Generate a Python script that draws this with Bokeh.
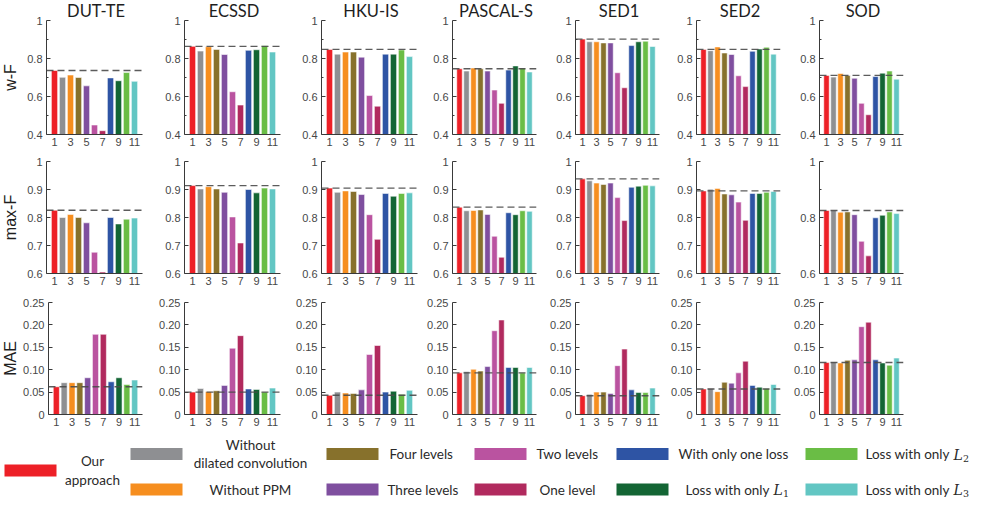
from math import pi
from bokeh.plotting import figure
from bokeh.layouts import column, row
from bokeh.models import Range1d, FixedTicker, Span, ColumnDataSource
from bokeh.embed import file_html
from bokeh.resources import INLINE
from bokeh.core.properties import value

# ---------------- data ----------------
datasets = ["DUT-TE", "ECSSD", "HKU-IS", "PASCAL-S", "SED1", "SED2", "SOD"]
metrics = ["w-F", "max-F", "MAE"]
methods = ["Our approach", "Without dilated convolution", "Without PPM", "Four levels",
           "Three levels", "Two levels", "One level", "With only one loss",
           "Loss with only L1", "Loss with only L2", "Loss with only L3"]
method_colors = ["#ED2027", "#8E8F92", "#F68E1F", "#87712C", "#7F4F9F", "#BA53A0",
                 "#B12A5E", "#2E54A4", "#136534", "#6ABD45", "#62C6C3"]
bar_ids = [1, 2, 3, 4, 5, 6, 7, 8, 9, 10, 11]
x_tick_values = [1, 3, 5, 7, 9, 11]

wf_dut_te = [0.737, 0.701, 0.713, 0.700, 0.656, 0.450, 0.420, 0.698, 0.683, 0.726, 0.680]
wf_ecssd = [0.864, 0.839, 0.862, 0.848, 0.821, 0.625, 0.555, 0.843, 0.846, 0.867, 0.834]
wf_hku_is = [0.848, 0.823, 0.834, 0.834, 0.807, 0.605, 0.549, 0.823, 0.823, 0.845, 0.810]
wf_pascal_s = [0.746, 0.734, 0.750, 0.746, 0.734, 0.634, 0.564, 0.739, 0.761, 0.750, 0.729]
wf_sed1 = [0.902, 0.888, 0.888, 0.882, 0.882, 0.725, 0.646, 0.868, 0.888, 0.891, 0.863]
wf_sed2 = [0.848, 0.841, 0.861, 0.829, 0.821, 0.709, 0.652, 0.838, 0.850, 0.859, 0.823]
wf_sod = [0.711, 0.702, 0.721, 0.711, 0.696, 0.564, 0.504, 0.705, 0.723, 0.734, 0.691]

maxf_dut_te = [0.826, 0.800, 0.811, 0.800, 0.781, 0.676, 0.605, 0.800, 0.777, 0.794, 0.798]
maxf_ecssd = [0.914, 0.902, 0.910, 0.902, 0.890, 0.802, 0.709, 0.900, 0.888, 0.905, 0.902]
maxf_hku_is = [0.905, 0.890, 0.895, 0.893, 0.882, 0.810, 0.722, 0.886, 0.876, 0.886, 0.888]
maxf_pascal_s = [0.837, 0.824, 0.825, 0.827, 0.811, 0.733, 0.658, 0.817, 0.810, 0.824, 0.822]
maxf_sed1 = [0.938, 0.931, 0.923, 0.918, 0.923, 0.871, 0.789, 0.908, 0.912, 0.915, 0.913]
maxf_sed2 = [0.895, 0.901, 0.904, 0.884, 0.881, 0.855, 0.790, 0.886, 0.886, 0.890, 0.893]
maxf_sod = [0.825, 0.825, 0.819, 0.820, 0.810, 0.715, 0.663, 0.799, 0.808, 0.820, 0.814]

mae_dut_te = [0.062, 0.071, 0.071, 0.071, 0.082, 0.179, 0.179, 0.073, 0.082, 0.067, 0.077]
mae_ecssd = [0.050, 0.058, 0.051, 0.053, 0.065, 0.148, 0.176, 0.057, 0.056, 0.050, 0.059]
mae_hku_is = [0.043, 0.050, 0.048, 0.047, 0.055, 0.134, 0.154, 0.050, 0.052, 0.045, 0.054]
mae_pascal_s = [0.093, 0.096, 0.101, 0.097, 0.107, 0.187, 0.211, 0.105, 0.105, 0.093, 0.105]
mae_sed1 = [0.042, 0.045, 0.050, 0.050, 0.047, 0.109, 0.146, 0.055, 0.049, 0.049, 0.059]
mae_sed2 = [0.057, 0.058, 0.051, 0.072, 0.070, 0.093, 0.119, 0.065, 0.061, 0.058, 0.067]
mae_sod = [0.116, 0.117, 0.115, 0.121, 0.122, 0.196, 0.206, 0.122, 0.115, 0.110, 0.126]

wf_ticks = [0.4, 0.6, 0.8, 1.0]
wf_tick_labels = ["0.4", "0.6", "0.8", "1"]
maxf_ticks = [0.6, 0.7, 0.8, 0.9, 1.0]
maxf_tick_labels = ["0.6", "0.7", "0.8", "0.9", "1"]
mae_ticks = [0.0, 0.05, 0.1, 0.15, 0.2, 0.25]
mae_tick_labels = ["0", "0.05", "0.10", "0.15", "0.20", "0.25"]

metric_values = [
    [wf_dut_te, wf_ecssd, wf_hku_is, wf_pascal_s, wf_sed1, wf_sed2, wf_sod],
    [maxf_dut_te, maxf_ecssd, maxf_hku_is, maxf_pascal_s, maxf_sed1, maxf_sed2, maxf_sod],
    [mae_dut_te, mae_ecssd, mae_hku_is, mae_pascal_s, mae_sed1, mae_sed2, mae_sod],
]
metric_ranges = [(0.4, 1.0), (0.6, 1.0), (0.0, 0.25)]
metric_ticks = [wf_ticks, maxf_ticks, mae_ticks]
metric_tick_labels = [wf_tick_labels, maxf_tick_labels, mae_tick_labels]

# ---------------- layout / style ----------------
LABEL_W = 20
col_left = [26, 30, 30, 30, 30, 30, 30]
col_frame = [96, 96, 96, 84, 84, 84, 84]
col_right = [12, 11, 5, 9, 7, 9, 10]
row_top = [0, 7, 9]
row_title_px = [20, 0, 0]      # extra frame space above the axes for the column titles
row_frame = [114, 112, 112]
row_bottom = [20, 20, 20]

AX_COLOR = "#3a3a3a"
TICK_COLOR = "#474747"
TICK_FONT = "Liberation Sans"
TITLE_FONT = "Lato"
LEG_FONT = "Lato"
TEXT_COLOR = "#1e1e1e"


def blank_fig(w, h):
    f = figure(width=w, height=h, x_range=Range1d(0, w), y_range=Range1d(h, 0),
               output_backend="svg", toolbar_location=None, x_axis_type=None,
               y_axis_type=None, min_border=0)
    f.outline_line_color = None
    f.grid.visible = False
    return f


rows = []
for r, metric in enumerate(metrics):
    y0, y1 = metric_ranges[r]
    ppu_y = (y1 - y0) / row_frame[r]
    y_top = y1 + row_title_px[r] * ppu_y
    figs = []
    for c, ds in enumerate(datasets):
        vals = metric_values[r][c]
        W = col_left[c] + col_frame[c] + col_right[c]
        H = row_top[r] + row_title_px[r] + row_frame[r] + row_bottom[r]
        p = figure(width=W, height=H, x_range=Range1d(0, 12), y_range=Range1d(y0, y_top),
                   output_backend="svg", toolbar_location=None,
                   min_border_left=col_left[c], min_border_right=col_right[c],
                   min_border_top=row_top[r], min_border_bottom=row_bottom[r])
        p.outline_line_color = None
        p.grid.visible = False

        src = ColumnDataSource(dict(x=bar_ids, top=vals, color=method_colors,
                                    method=methods))
        p.vbar(x="x", top="top", bottom=y0, width=0.78, fill_color="color",
               line_color="white", line_alpha=0.55, line_width=1, source=src)
        p.add_layout(Span(location=vals[0], dimension="width", line_color="#4a4a4a",
                          line_dash="7 4", line_width=1.4, line_alpha=0.9))

        ticks = metric_ticks[r]
        labels = metric_tick_labels[r]
        minor = []
        if r == 0:
            minor = [0.5, 0.7, 0.9]
        if r == 1 and ds == "SOD":
            keep = [0, 2, 4]
            minor = [ticks[1], ticks[3]]
            ticks = [ticks[k] for k in keep]
            labels = [labels[k] for k in keep]
        yax = p.yaxis[0]
        yax.bounds = (y0, y1)
        yax.ticker = FixedTicker(ticks=ticks, minor_ticks=minor)
        yax.major_label_overrides = {t: l for t, l in zip(ticks, labels)}
        yax.major_tick_in = 4
        yax.major_tick_out = 0
        yax.minor_tick_in = 2
        yax.minor_tick_out = 0
        yax.major_label_standoff = 4
        xax = p.xaxis[0]
        xax.ticker = FixedTicker(ticks=x_tick_values)
        xax.major_tick_in = 0
        xax.major_tick_out = 0
        xax.minor_tick_in = 0
        xax.minor_tick_out = 0
        xax.major_label_standoff = 3
        for ax in (xax, yax):
            ax.axis_line_color = AX_COLOR
            ax.major_tick_line_color = AX_COLOR
            ax.minor_tick_line_color = AX_COLOR
            ax.major_label_text_font = TICK_FONT
            ax.major_label_text_font_size = "11px"
            ax.major_label_text_color = TICK_COLOR

        if row_title_px[r] > 0:
            ppu_x = 12.0 / col_frame[c]
            p.text(x=[6.0 + 1.5 * ppu_x], y=[y1 + 10 * ppu_y], text=[ds],
                   text_align="center", text_baseline="middle",
                   text_font=value(TITLE_FONT), text_font_size="16.5px",
                   text_color=TEXT_COLOR)
        figs.append(p)
    rows.append(row(figs, spacing=0))

TOTAL_W = 973

# ---------------- row labels (left strip) ----------------
grid_h = sum(row_top) + sum(row_title_px) + sum(row_frame) + sum(row_bottom)
labfig = blank_fig(LABEL_W, grid_h)
label_y = []
acc = 0
for r in range(len(metrics)):
    label_y.append(acc + row_top[r] + row_title_px[r] + row_frame[r] / 2)
    acc += row_top[r] + row_title_px[r] + row_frame[r] + row_bottom[r]
labfig.text(x=[10] * len(metrics), y=label_y, text=metrics, angle=pi / 2,
            text_align="center", text_baseline="middle", text_font=value("Liberation Sans"),
            text_font_size="16px", text_color=TEXT_COLOR)

# ---------------- legend ----------------
LW, LH = TOTAL_W, 66
lg = blank_fig(LW, LH)
legend_labels = ["Our\napproach", "Without\ndilated convolution", "Without PPM",
                 "Four levels", "Three levels", "Two levels", "One level",
                 "With only one loss", "Loss with only", "Loss with only", "Loss with only"]
ROW_A, ROW_B, ROW_MID = 19.5, 55, 36
swatch_left = [4, 130, 130, 326, 326, 474, 474, 616, 616, 805, 805]
swatch_cy = [ROW_MID, ROW_A, ROW_B, ROW_A, ROW_B, ROW_A, ROW_B, ROW_A, ROW_B, ROW_A, ROW_B]
text_x = [92, 250, 250, 389, 387, 536, 539, 678, 685, 865, 865]
text_align = ["center", "center", "center", "left", "left", "left", "left",
              "left", "left", "left", "left"]
sw = 52
sh = 12
lg.quad(left=swatch_left, right=[v + sw for v in swatch_left],
        top=[v - sh / 2 for v in swatch_cy], bottom=[v + sh / 2 for v in swatch_cy],
        fill_color=method_colors, line_color=None)
for k in range(len(methods)):
    lg.text(x=[text_x[k]], y=[swatch_cy[k]], text=[legend_labels[k]],
            text_align=text_align[k], text_baseline="middle",
            text_font=value(LEG_FONT), text_font_size="13.5px", text_color="#2a2a2a",
            text_line_height=1.15)
loss_sub = ["1", "2", "3"]
loss_L_x = [773, 953, 953]
loss_y = [ROW_B, ROW_A, ROW_B]
for k in range(3):
    lg.text(x=[loss_L_x[k]], y=[loss_y[k] + 0.5], text=["L"], text_align="left",
            text_baseline="middle", text_font=value("DejaVu Serif"),
            text_font_style="italic", text_font_size="14px", text_color="#2a2a2a")
    lg.text(x=[loss_L_x[k] + 9.5], y=[loss_y[k] + 4], text=[loss_sub[k]],
            text_align="left", text_baseline="middle", text_font=value("DejaVu Serif"),
            text_font_size="9.5px", text_color="#2a2a2a")

layout = column(row(labfig, column(rows, spacing=0), spacing=0), lg, spacing=0)
open("out.html", "w").write(file_html(layout, INLINE))
